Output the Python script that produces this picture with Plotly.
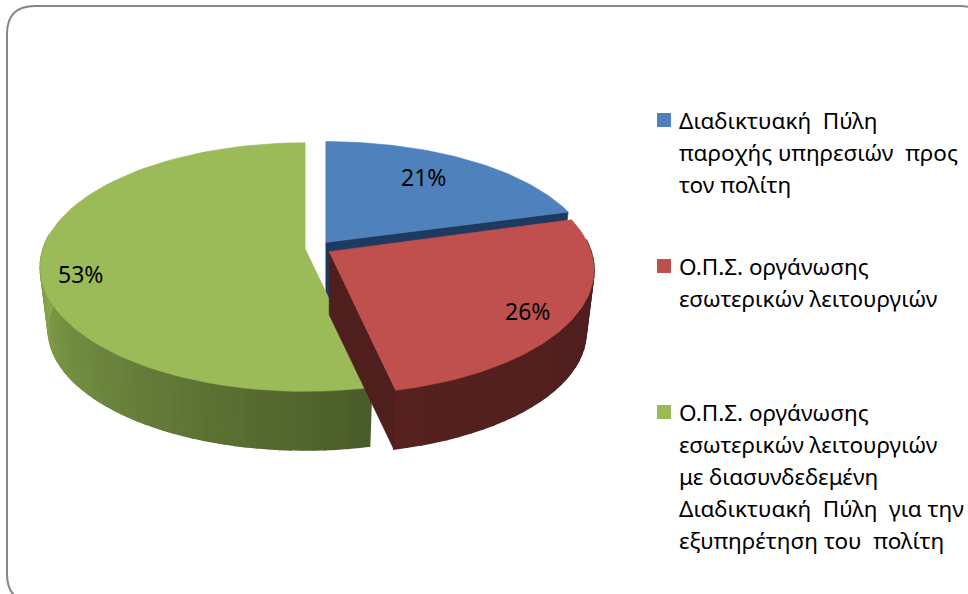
import math
import plotly.graph_objects as go

# Data
categories = [
    "Διαδικτυακή Πύλη παροχής υπηρεσιών προς τον πολίτη",
    "Ο.Π.Σ. οργάνωσης εσωτερικών λειτουργιών",
    "Ο.Π.Σ. οργάνωσης εσωτερικών λειτουργιών με διασυνδεδεμένη Διαδικτυακή Πύλη για την εξυπηρέτηση του πολίτη",
]
shares = [20.6, 25.91, 53.49]
legend_lines = [
    ["Διαδικτυακή  Πύλη", "παροχής υπηρεσιών  προς", "τον πολίτη"],
    ["Ο.Π.Σ. οργάνωσης", "εσωτερικών λειτουργιών"],
    ["Ο.Π.Σ. οργάνωσης", "εσωτερικών λειτουργιών", "με διασυνδεδεμένη", "Διαδικτυακή  Πύλη  για την", "εξυπηρέτηση του  πολίτη"],
]
top_colors = ["#4F81BD", "#C0504D", "#9BBB59"]
face_colors = ["#1F3A5F", "#4F1F1E", "#4B5E2A"]
wall_light = ["#1F3A5F", "#56211F", "#8AAA50"]
wall_dark = ["#1F3A5F", "#4C1E1D", "#4A5C29"]

# Layout constants (pixels of the 968x594 page)
W, H = 968, 594
CX, CY = 318, 248
A, B, K = 262, 121.6, 0.147
EXPLODE = 13
DEPTH = 63
SHRINK = 0.97
SLICE_Y_SCALE = [0.95, 1.0, 1.0]
FONT = "Noto Sans"
LEGEND_SIZE = 22.5
LABEL_SIZE = 23
LINE_H = 32
LEGEND_X = 679
LEGEND_TOPS = [120.5, 266.5, 412.5]
SWATCH_X = 664
label_pos = [(423, 177), (527, 311), (80, 274)]


def project(X, Y, off_x, off_y, low=False, ys=1.0):
    s = 1 / (1 - K * Y)
    x = A * X * s
    y = B * Y * s * ys
    if low:
        x *= SHRINK
        y = y * SHRINK + DEPTH
    return CX + off_x + x, CY + off_y + y


def circ(theta):
    return math.sin(theta), -math.cos(theta)


def arc(t0, t1, off, low=False, n=80, ys=1.0):
    pts = []
    for i in range(n + 1):
        t = t0 + (t1 - t0) * i / n
        X, Y = circ(t)
        pts.append(project(X, Y, off[0], off[1], low, ys))
    return pts


def poly(fig, pts, color, name=None, lw=0.6):
    xs = [p[0] for p in pts] + [pts[0][0]]
    ys = [p[1] for p in pts] + [pts[0][1]]
    fig.add_trace(go.Scatter(x=xs, y=ys, mode="lines", fill="toself", fillcolor=color,
                             line=dict(color=color, width=lw), hoverinfo="skip",
                             showlegend=False, name=name or ""))


def hex_mix(c0, c1, f):
    a = [int(c0[i:i + 2], 16) for i in (1, 3, 5)]
    b = [int(c1[i:i + 2], 16) for i in (1, 3, 5)]
    return "#%02x%02x%02x" % tuple(round(a[i] + (b[i] - a[i]) * f) for i in range(3))


total = sum(shares)
angles = []
cur = 0.0
for v in shares:
    a0 = cur
    cur += v / total * 2 * math.pi
    angles.append((a0, cur))

offsets = []
for a0, a1 in angles:
    mid = (a0 + a1) / 2
    offsets.append((EXPLODE * math.sin(mid), EXPLODE * (-math.cos(mid)) * 0.55))

fig = go.Figure()


def wall(fig, idx, t0, t1, strips):
    off = offsets[idx]
    for i in range(strips):
        s0 = t0 + (t1 - t0) * i / strips
        s1 = t0 + (t1 - t0) * (i + 1) / strips
        up = arc(s0, s1, off, False, 4)
        lo = arc(s0, s1, off, True, 4)
        poly(fig, up + lo[::-1], hex_mix(wall_dark[idx], wall_light[idx], i / max(strips - 1, 1)), lw=1.5)


def radial(fig, idx, t):
    off = offsets[idx]
    ys = SLICE_Y_SCALE[idx]
    apex_u = project(0, 0, off[0], off[1])
    apex_l = project(0, 0, off[0], off[1], True)
    X, Y = circ(t)
    poly(fig, [apex_u, project(X, Y, off[0], off[1], False, ys), project(X, Y, off[0], off[1], True, ys), apex_l], face_colors[idx])


def top(fig, idx):
    off = offsets[idx]
    a0, a1 = angles[idx]
    poly(fig, [project(0, 0, off[0], off[1])] + arc(a0, a1, off, ys=SLICE_Y_SCALE[idx]), top_colors[idx], categories[idx])


# Blue slice (farthest)
radial(fig, 0, angles[0][1])
top(fig, 0)
# Green slice
wall(fig, 2, angles[2][0], 1.5 * math.pi + 0.12, 50)
top(fig, 2)
# Red slice (nearest)
radial(fig, 1, angles[1][1])
wall(fig, 1, math.pi / 2 - 0.1, angles[1][1], 30)
top(fig, 1)

# Percentage labels
annotations = []
for v, (lx, ly) in zip(shares, label_pos):
    annotations.append(dict(x=lx, y=ly, text=f"{round(v)}%", showarrow=False, xanchor="center", yanchor="middle",
                            font=dict(family=FONT, size=LABEL_SIZE, color="#000000")))

# Legend
for idx, lines in enumerate(legend_lines):
    fig.add_trace(go.Scatter(x=[SWATCH_X], y=[LEGEND_TOPS[idx] - 0.5], mode="markers", hoverinfo="skip", showlegend=False,
                             marker=dict(symbol="square", size=14, color=top_colors[idx]), name=categories[idx]))
    for j, line in enumerate(lines):
        annotations.append(dict(x=LEGEND_X, y=LEGEND_TOPS[idx] + j * LINE_H, text=line, showarrow=False,
                                xanchor="left", yanchor="middle", xshift=-2,
                                font=dict(family=FONT, size=LEGEND_SIZE, color="#000000")))

# Frame
R = 28
L, T, RE, BO = 7, 6, 988, 602
frame = (f"M {L+R},{T} L {RE-R},{T} Q {RE},{T} {RE},{T+R} L {RE},{BO-R} Q {RE},{BO} {RE-R},{BO} "
         f"L {L+R},{BO} Q {L},{BO} {L},{BO-R} L {L},{T+R} Q {L},{T} {L+R},{T} Z")

fig.update_layout(
    width=W, height=H, margin=dict(l=0, r=0, t=0, b=0), autosize=False,
    paper_bgcolor="#FFFFFF", plot_bgcolor="#FFFFFF", showlegend=False,
    xaxis=dict(range=[0, W], visible=False, fixedrange=True),
    yaxis=dict(range=[H, 0], visible=False, fixedrange=True),
    shapes=[dict(type="path", path=frame, line=dict(color="#868686", width=2), layer="below")],
    annotations=annotations,
)
fig.write_html("out.html", config={"displayModeBar": False},
               post_script="document.body.style.margin='0';document.documentElement.style.overflow='hidden';")
